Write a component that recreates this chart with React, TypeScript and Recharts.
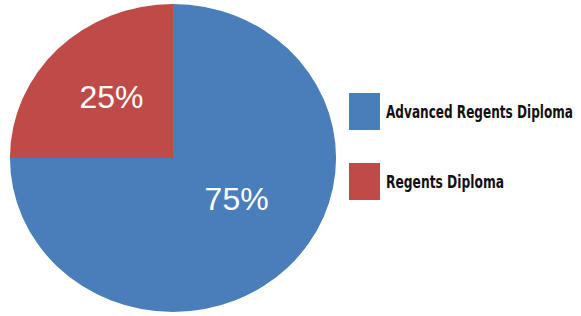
import React from "react";
import { PieChart, Pie, Cell, Legend } from "recharts";

const categories = ["Regents Diploma", "Advanced Regents Diploma"];
const shares = [25, 75];
const colors = ["#be4b48", "#4a7ebb"];
const legendOrder = [1, 0];
const legendTextWidths = [118, 187];

const data = categories.map((name, i) => ({ name, value: shares[i] }));

const RADIAN = Math.PI / 180;

const renderLabel = (props: any) => {
  const { cx, cy, midAngle, outerRadius, index, value } = props;
  // blue label sits a bit higher than the slice middle
  const angle = index === 1 ? midAngle + 12 : midAngle;
  const r = index === 1 ? outerRadius * 0.48 : outerRadius * 0.55;
  const x = cx + r * Math.cos(-angle * RADIAN);
  const y = cy + r * Math.sin(-angle * RADIAN);
  return (
    <text
      x={x}
      y={y}
      fill="#ffffff"
      textAnchor="middle"
      dominantBaseline="central"
      fontFamily="'Liberation Sans', Arial, sans-serif"
      fontSize={32}
    >
      {`${value}%`}
    </text>
  );
};

// condensed look: small bold font stretched vertically
const LegendContent = () => (
  <svg width={232} height={110}>
    {legendOrder.map((i, row) => (
      <g key={categories[i]} transform={`translate(0, ${row * 70})`}>
        <rect x={0} y={0} width={31} height={37} fill={colors[i]} />
        <text
          transform="translate(37, 25) scale(1, 1.5)"
          x={0}
          y={0}
          fontFamily="'DejaVu Sans', sans-serif"
          fontWeight="bold"
          fontSize={12}
          fill="#111111"
          textLength={legendTextWidths[i]}
          lengthAdjust="spacingAndGlyphs"
        >
          {categories[i]}
        </text>
      </g>
    ))}
  </svg>
);

export default function App() {
  return (
    <div style={{ position: "absolute", left: 0, top: 0, width: 581, height: 316, background: "#ffffff" }}>
      <style>{`.recharts-pie-sector path { transform-origin: 173px 158px; transform: scale(1.032, 0.975); }`}</style>
      <PieChart width={581} height={316} margin={{ top: 0, right: 0, bottom: 0, left: 0 }}>
        <Pie
          data={data}
          dataKey="value"
          nameKey="name"
          cx={173}
          cy={158}
          outerRadius={158}
          startAngle={90}
          endAngle={450}
          stroke="none"
          label={renderLabel}
          labelLine={false}
          isAnimationActive={false}
        >
          {data.map((d, i) => (
            <Cell key={d.name} fill={colors[i]} />
          ))}
        </Pie>
        <Legend
          content={<LegendContent />}
          wrapperStyle={{ position: "absolute", left: 349, top: 93, width: 232 }}
        />
      </PieChart>
    </div>
  );
}
